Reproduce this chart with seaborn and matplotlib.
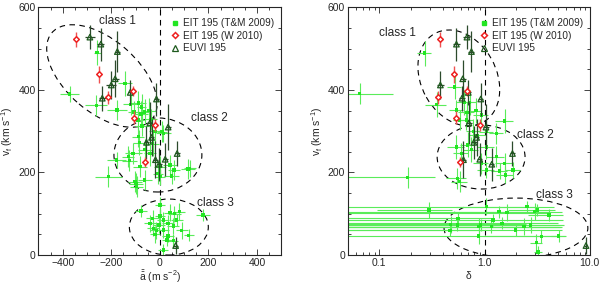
import numpy as np
import matplotlib
matplotlib.use("Agg")
import matplotlib.pyplot as plt
from matplotlib.patches import Ellipse
from matplotlib.lines import Line2D
from matplotlib.ticker import MultipleLocator
import seaborn as sns

sns.set_style("ticks")
plt.rcParams['font.family'] = ['Liberation Sans', 'DejaVu Sans']
plt.rcParams['mathtext.fontset'] = 'custom'
plt.rcParams['mathtext.rm'] = 'Liberation Sans'
plt.rcParams['mathtext.it'] = 'Liberation Sans'

# EIT 195 (T&M 2009), classes 1/2 : acceleration, final speed, errors
g12_a = [-258, -371, -262, -143, -177, -120, -88, -107, -77, -90, -63, -46, -36, -73,
         -75, 9, -20, 14, -89, -85, -62, -110, -41, -126, -178, -82, 0, 41, 116, -212,
         -103, -62, -96, 0, 48, -7, -99, -130, 123, 58, -30]
g12_v = [490, 390, 363, 416, 351, 365, 368, 347, 342, 327, 347, 350, 329, 313,
         359, 299, 300, 295, 287, 272, 255, 246, 246, 229, 230, 214, 214, 218, 208, 190,
         178, 182, 166, 190, 191, 197, 173, 238, 210, 206, 270]
g12_ae = [15, 40, 45, 30, 40, 30, 30, 25, 30, 25, 25, 30, 25, 30,
          20, 20, 25, 30, 25, 25, 30, 35, 25, 30, 40, 30, 25, 30, 30, 55,
          30, 30, 25, 20, 30, 20, 30, 25, 25, 25, 25]
g12_ve = [30, 20, 25, 30, 25, 25, 30, 25, 30, 25, 30, 30, 25, 25,
          30, 25, 25, 20, 25, 30, 25, 25, 30, 25, 20, 25, 25, 25, 25, 25,
          25, 25, 25, 20, 20, 25, 25, 25, 20, 25, 30]

# EIT 195 (T&M 2009), class 3
g3_a = [-78, 178, 80, 41, 0, -30, -41, -4, 14, 34, 55, 69, -27, 14, 34, 119, 55, 14,
        30, -14, 0, -20, 90, 60]
g3_v = [107, 97, 105, 103, 121, 89, 77, 73, 85, 77, 70, 85, 65, 61, 46, 48, 35, 12,
        36, 60, 95, 50, 60, 100]
g3_ae = [25, 30, 25, 25, 20, 25, 25, 25, 25, 25, 25, 25, 25, 25, 25, 20, 20, 20,
         20, 25, 20, 20, 25, 25]
g3_ve = [15, 15, 20, 20, 20, 20, 20, 20, 20, 20, 20, 15, 20, 20, 15, 15, 15, 15,
         15, 20, 20, 20, 20, 20]

# right panel, delta values of the T&M points
gd12_d = [0.27, 0.065, 0.52, 0.35, 0.54, 0.64, 0.72, 0.68, 0.83, 0.67, 0.58, 0.93, 1.55,
          1.04, 1.29, 0.54, 0.60, 0.75, 0.69, 1.04, 0.93, 1.29, 1.55, 0.186, 0.55, 0.58,
          1.39, 1.86, 1.58, 1.04, 0.85, 0.78]
gd12_v = [489, 391, 407, 364, 351, 370, 370, 346, 350, 327, 327, 339, 325,
          299, 295, 262, 246, 255, 267, 262, 222, 238, 222, 188, 186, 178,
          204, 206, 194, 206, 290, 300]
gd12_de = [0.04, 0.07, 0.08, 0.08, 0.08, 0.10, 0.10, 0.12, 0.10, 0.10, 0.08, 0.15, 0.3,
           0.15, 0.2, 0.1, 0.1, 0.12, 0.1, 0.2, 0.15, 0.25, 0.3, 0.15, 0.12, 0.1,
           0.25, 0.3, 0.3, 0.2, 0.15, 0.12]
gd12_ve = [30, 25, 30, 30, 25, 30, 30, 25, 30, 25, 25, 25, 30,
           25, 25, 30, 25, 30, 30, 30, 25, 25, 25, 25, 25, 25,
           20, 20, 20, 20, 30, 30]

gd3_d = [0.295, 0.557, 0.475, 0.55, 0.88, 0.92, 0.88, 1.04, 1.16, 1.37, 1.64, 1.46, 1.97,
         2.37, 2.53, 2.74, 3.0, 3.17, 4.09, 3.46, 3.1, 3.22, 5.07, 0.47, 1.2]
gd3_v = [109, 89, 74, 73, 69, 73, 46, 117, 69, 105, 103, 77, 61,
         69, 117, 73, 105, 109, 97, 45, 30, 7, 46, 60, 85]
gd3_de = [0.2, 0.6, 2.0, 4.5, 4.6, 1.3, 4.2, 2.0, 4.0, 3.0, 2.5, 3.5, 3.5,
          3.0, 2.0, 3.0, 2.5, 1.5, 1.5, 2.5, 0.4, 0.3, 0.8, 0.5, 4.4]
gd3_ve = [20, 15, 20, 15, 20, 15, 20, 20, 15, 15, 20, 15, 15,
          20, 15, 20, 20, 15, 15, 15, 20, 15, 15, 15, 15]

# EIT 195 (W 2010)
red_a = [-346, -252, -215, -110, -106, -21, -62]
red_d = [0.38, 0.51, 0.36, 0.68, 0.54, 0.90, 0.58]
red_v = [523, 438, 382, 398, 333, 315, 225]
red_ae = [10, 8, 10, 8, 10, 10, 8]
red_de = [0.02, 0.03, 0.02, 0.03, 0.03, 0.04, 0.03]
red_ve = [18, 20, 15, 12, 15, 15, 12]

# EUVI 195
euvi_a = [-288, -243, -175, -184, -200, -237, -122, -14, -41, 34, -34, -55, 71, -18, 22, -3, 65]
euvi_d = [0.68, 0.54, 0.75, 0.62, 0.38, 0.61, 0.70, 0.92, 0.71, 1.03, 0.84, 0.79, 1.84,
          0.63, 0.90, 1.17, 9.2]
euvi_v = [528, 511, 493, 427, 412, 380, 394, 378, 320, 310, 285, 273, 246, 231, 232, 220, 23]
euvi_ae = [20, 15, 10, 15, 20, 15, 10, 10, 10, 10, 10, 10, 10, 10, 10, 10, 10]
euvi_de = [0.05, 0.04, 0.05, 0.04, 0.03, 0.04, 0.05, 0.05, 0.05, 0.06, 0.05, 0.05, 0.1,
           0.04, 0.05, 0.06, 0.3]
euvi_ve = [30, 40, 50, 45, 35, 30, 30, 40, 50, 55, 45, 40, 30, 45, 40, 40, 20]

GREEN = '#22e622'
GREEN_ERR = '#5aec5a'
DARK = '#1e5a1e'
DARK_ERR = '#2c4a2c'
RED = '#ee2020'
RED_ERR = '#f05050'

fig, (ax1, ax2) = plt.subplots(1, 2, figsize=(6, 2.84), dpi=100)
fig.subplots_adjust(left=0.064, right=0.983, bottom=0.102, top=0.974, wspace=0.27)
ax2.set_position([0.5795, 0.102, 0.4035, 0.872])


def log_err(d, e):
    d = np.asarray(d, float)
    e = np.asarray(e, float)
    return [np.minimum(e, d * 0.999), e]


def draw(ax, gx, gv, gxe, gve, rx, rxe, tx, txe):
    for x, v, xe, ve in zip(gx, gv, gxe, gve):
        ax.errorbar(x, v, xerr=xe, yerr=ve, fmt='none', ecolor=GREEN_ERR,
                    elinewidth=0.8, capsize=0, zorder=2)
    sns.scatterplot(x=np.concatenate(gx), y=np.concatenate(gv), marker='s', s=6,
                    color=GREEN, edgecolor='none', ax=ax, zorder=3)
    ax.errorbar(tx, euvi_v, xerr=txe, yerr=euvi_ve, fmt='none', ecolor=DARK_ERR,
                elinewidth=0.9, capsize=0, zorder=4)
    sns.scatterplot(x=tx, y=euvi_v, marker='^', s=16, facecolor='none',
                    edgecolor=DARK, linewidth=0.9, ax=ax, zorder=5)
    ax.errorbar(rx, red_v, xerr=rxe, yerr=red_ve, fmt='none', ecolor=RED_ERR,
                elinewidth=1.0, capsize=0, zorder=4)
    sns.scatterplot(x=rx, y=red_v, marker='D', s=8, facecolor='white',
                    edgecolor=RED, linewidth=1.1, ax=ax, zorder=6)


draw(ax1, [g12_a, g3_a], [g12_v, g3_v], [g12_ae, g3_ae], [g12_ve, g3_ve],
     red_a, red_ae, euvi_a, euvi_ae)
draw(ax2, [gd12_d, gd3_d], [gd12_v, gd3_v],
     [log_err(gd12_d, gd12_de), log_err(gd3_d, gd3_de)], [gd12_ve, gd3_ve],
     red_d, log_err(red_d, red_de), euvi_d, log_err(euvi_d, euvi_de))

dash = (0, (5, 4))
ax1.axvline(0, color='black', lw=0.8, ls=dash, zorder=1)
ax2.axvline(1, color='black', lw=0.8, ls=dash, zorder=1)

# class ellipses (axes fraction)
ell_left = [((0.2615, 0.723), 0.54, 0.294, -40), ((0.492, 0.404), 0.362, 0.299, 0),
            ((0.537, 0.113), 0.325, 0.226, 0)]
ell_right = [((0.459, 0.715), 0.41, 0.31, -60), ((0.551, 0.396), 0.363, 0.259, 0),
             ((0.695, 0.109), 0.594, 0.242, 0)]
lab_left = [(0.325, 0.945), (0.706, 0.554), (0.727, 0.21)]
lab_right = [(0.207, 0.897), (0.777, 0.485), (0.855, 0.242)]

for ax, ells, labs in [(ax1, ell_left, lab_left), (ax2, ell_right, lab_right)]:
    for (c, w, h, ang) in ells:
        ax.add_patch(Ellipse(c, w, h, angle=ang, transform=ax.transAxes, fill=False,
                             ec='black', lw=0.8, ls=dash, zorder=1))
    for i, (x, y) in enumerate(labs):
        ax.text(x, y, f'class {i + 1}', transform=ax.transAxes, ha='center',
                va='center', fontsize=8.6)

ax1.set_xlim(-500, 500)
ax1.set_ylim(0, 600)
ax1.set_xticks([-400, -200, 0, 200, 400])
ax1.xaxis.set_minor_locator(MultipleLocator(50))
ax1.set_xlabel(r'$\bar{\bar{\mathrm{a}}}$ (m s$^{-2}$)', fontsize=7.5, labelpad=1)

ax2.set_xscale('log')
ax2.set_xlim(0.05, 10)
ax2.set_xticks([0.1, 1, 10])
ax2.set_xticklabels(['0.1', '1.0', '10.0'])
ax2.set_xlabel(r'$\delta$', fontsize=7.5, labelpad=1)

for ax in (ax1, ax2):
    ax.set_ylim(0, 600)
    ax.set_yticks([0, 200, 400, 600])
    ax.yaxis.set_minor_locator(MultipleLocator(50))
    ax.set_ylabel(r'v$_\mathrm{f}$ (km s$^{-1}$)', fontsize=7.5, labelpad=2)
    ax.tick_params(which='both', direction='in', top=True, right=True, labelsize=7.5,
                   width=0.6, pad=2)
    ax.tick_params(which='major', length=4)
    ax.tick_params(which='minor', length=2)
    for s in ax.spines.values():
        s.set_linewidth(0.8)
    handles = [
        Line2D([], [], ls='none', marker='s', ms=2.3, color=GREEN),
        Line2D([], [], ls='none', marker='D', ms=3.0, mfc='white', mec=RED, mew=1.1),
        Line2D([], [], ls='none', marker='^', ms=4.2, mfc='none', mec=DARK, mew=0.9),
    ]
    ax.legend(handles, ['EIT 195 (T&M 2009)', 'EIT 195 (W 2010)', 'EUVI 195'],
              loc='upper right', frameon=False, fontsize=7.2, handlelength=0.8,
              handletextpad=0.4, labelspacing=0.25, borderaxespad=0.3,
              bbox_to_anchor=(1.0, 0.985))

fig.savefig('out.png', dpi=100)
